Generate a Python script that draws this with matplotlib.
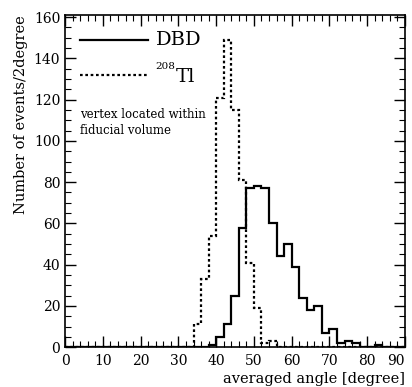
import numpy as np
import matplotlib
matplotlib.use("Agg")
import matplotlib.pyplot as plt
from matplotlib.ticker import MultipleLocator

plt.rcParams["font.family"] = "DejaVu Serif"

# 2-degree bins from 0 to 90
edges = np.arange(0, 92, 2)

# DBD counts per bin (starting at 0-2 deg)
dbd = [0] * 19 + [1, 5, 11, 25, 58, 77, 78, 77, 60, 44, 50, 39, 24, 18, 20,
                  7, 9, 2, 3, 2, 0, 0, 1, 0, 0, 0]
# 208Tl counts per bin
tl = [0] * 17 + [11, 33, 54, 121, 149, 115, 81, 41, 19, 2, 3] + [0] * 17

xticks = list(range(0, 91, 10))

fig = plt.figure(figsize=(4.12, 3.87), dpi=100)
ax = fig.add_axes([0.158, 0.103, 0.825, 0.858])

dots = (0, (1.2, 1.2))
ax.stairs(dbd, edges, color="black", lw=1.6)
ax.stairs(tl, edges, color="black", lw=1.6, linestyle=dots)

ax.set_xlim(0, 90)
ax.set_ylim(0, 161)
ax.set_xticks(xticks)
ax.xaxis.set_minor_locator(MultipleLocator(2))
ax.yaxis.set_major_locator(MultipleLocator(20))
ax.yaxis.set_minor_locator(MultipleLocator(5))
ax.tick_params(which="both", direction="in", top=True, right=True, labelsize=10)
ax.tick_params(which="major", length=8, width=1)
ax.tick_params(which="minor", length=4, width=0.8)
ax.tick_params(axis="x", pad=5)
ax.get_xticklabels()[-1].set_horizontalalignment("right")
for s in ax.spines.values():
    s.set_linewidth(1.2)

ax.set_xlabel("averaged angle [degree]", fontsize=10.5, loc="right", labelpad=3)
ax.set_ylabel("Number of events/2degree", fontsize=10.5, loc="top")

# legend drawn by hand
ax.plot([4, 22], [149, 149], color="black", lw=1.6)
ax.plot([4, 22], [132, 132], color="black", lw=1.6, linestyle=dots)
ax.text(24, 149, "DBD", fontsize=14, va="center")
ax.text(24, 134, "208", fontsize=7.5, va="bottom")
ax.text(29.3, 131, "Tl", fontsize=14, va="center")
ax.text(4, 113, "vertex located within", fontsize=8.5, va="center")
ax.text(4, 105, "fiducial volume", fontsize=8.5, va="center")

plt.savefig("out.png", dpi=100)
